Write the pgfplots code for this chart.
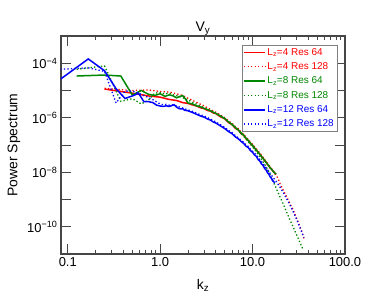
\documentclass[border=0pt]{standalone}
\usepackage{pgfplots}
\pgfplotsset{compat=1.18}
\usepackage{fontspec}
\setmainfont{Liberation Sans}
\definecolor{dgreen}{RGB}{0,135,0}
\definecolor{axgray}{RGB}{70,70,70}
\pgfplotstableread{
k P
0.25 1.13e-5
0.5 8.0e-6
0.75 6.3e-6
1.0 5.7e-6
1.25 4.7e-6
1.5 4.3e-6
1.75 3.6e-6
2.0 3.35e-6
2.25 2.95e-6
2.5 2.65e-6
2.75 2.3e-6
3.0 2.15e-6
3.25 1.85e-6
3.5 1.75e-6
3.75 1.5e-6
4.0 1.42e-6
4.5 1.08e-6
5.0 9.2e-7
5.5 6.6e-7
6.0 5.6e-7
6.5 4.1e-7
7.0 3.6e-7
7.5 2.6e-7
8.0 2.3e-7
8.5 1.68e-7
9.0 1.45e-7
9.5 1.1e-7
10.0 9.8e-8
10.5 7.6e-8
11.0 6.7e-8
11.5 5.3e-8
12.0 4.6e-8
12.5 3.7e-8
13.0 3.3e-8
13.5 2.6e-8
14.0 2.4e-8
14.5 1.9e-8
15.0 1.75e-8
15.5 1.4e-8
16.0 1.35e-8
16.5 1.1e-8
17.0 1.05e-8
17.5 8.8e-9
18.0 8.5e-9
}\redA
\pgfplotstableread{
k P
0.25 1.2e-5
0.5 1.0e-5
0.75 1.05e-5
1.0 9.2e-6
1.25 8.8e-6
1.5 7.6e-6
1.75 6.6e-6
2.0 5.2e-6
2.25 4.3e-6
2.5 3.6e-6
2.75 3.1e-6
3.0 2.7e-6
3.25 2.3e-6
3.5 2.05e-6
3.75 1.75e-6
4.0 1.6e-6
4.5 1.25e-6
5.0 1.0e-6
5.5 7.6e-7
6.0 6.2e-7
6.5 4.7e-7
7.0 4.0e-7
7.5 3.0e-7
8.0 2.5e-7
8.5 1.9e-7
9.0 1.6e-7
9.5 1.25e-7
10 1.05e-7
11 7.2e-8
12 5.0e-8
13 3.5e-8
14 2.5e-8
15 1.8e-8
16 1.35e-8
17 1.0e-8
18 8.0e-9
19 5.5e-9
20 3.5e-9
21 2.6e-9
22 1.9e-9
23 1.4e-9
24 1.05e-9
25 7.9e-10
26 6.0e-10
27 4.7e-10
28 3.6e-10
29 2.7e-10
30 2.0e-10
31 1.55e-10
32 1.17e-10
33 9.0e-11
34 6.9e-11
35 5.0e-11
36 3.6e-11
}\redB
\pgfplotstableread{
k P
0.125 3.4e-5
0.25 3.7e-5
0.375 3.4e-5
0.5 6.8e-6
0.625 1.0e-5
0.75 7.2e-6
0.875 6.6e-6
1.0 7.6e-6
1.125 6.1e-6
1.25 6.9e-6
1.375 6.4e-6
1.5 5.4e-6
1.625 6.0e-6
1.75 6.5e-6
1.875 4.9e-6
2.0 3.5e-6
2.25 3.2e-6
2.5 2.7e-6
2.75 2.5e-6
3.0 2.2e-6
3.25 2.0e-6
3.5 1.8e-6
3.75 1.6e-6
4.0 1.45e-6
4.5 1.15e-6
5.0 9.4e-7
5.5 7.0e-7
6.0 5.7e-7
6.5 4.4e-7
7.0 3.6e-7
7.5 2.8e-7
8.0 2.3e-7
8.5 1.78e-7
9.0 1.45e-7
9.5 1.15e-7
10.0 9.6e-8
10.5 7.8e-8
11.0 6.5e-8
11.5 5.4e-8
12.0 4.5e-8
12.5 3.8e-8
13.0 3.2e-8
13.5 2.7e-8
14.0 2.3e-8
14.5 2.0e-8
15.0 1.7e-8
15.5 1.45e-8
16.0 1.3e-8
16.5 1.15e-8
17.0 1.0e-8
17.5 9.2e-9
18.0 8.6e-9
}\greenA
\pgfplotstableread{
k P
0.125 6.0e-5
0.25 8.0e-5
0.375 4.0e-6
0.5 5.0e-6
0.625 3.2e-6
0.75 4.5e-6
0.875 8.0e-6
1.0 8.5e-6
1.125 7.5e-6
1.25 8.0e-6
1.375 7.0e-6
1.5 6.5e-6
1.75 5.5e-6
2.0 4.5e-6
2.25 3.7e-6
2.5 3.1e-6
3.0 2.3e-6
3.5 1.8e-6
4.0 1.45e-6
4.5 1.15e-6
5.0 9.0e-7
6.0 5.5e-7
7.0 3.4e-7
8.0 2.1e-7
9.0 1.3e-7
10 8.5e-8
11 5.6e-8
12 3.7e-8
13 2.4e-8
14 1.6e-8
15 1.05e-8
16 6.0e-9
17 4.0e-9
18 2.6e-9
19 1.7e-9
20 1.15e-9
21 8.0e-10
22 5.6e-10
23 3.9e-10
24 2.8e-10
25 2.0e-10
26 1.5e-10
27 1.12e-10
28 8.5e-11
29 6.5e-11
30 5.0e-11
31 3.9e-11
32 3.0e-11
33 2.4e-11
34 1.9e-11
35 1.5e-11
}\greenB
\pgfplotstableread{
k P
0.0833 2.6e-5
0.1667 1.44e-4
0.25 5.3e-5
0.3333 1.16e-5
0.4167 5.1e-6
0.5 6.3e-6
0.5833 7.9e-6
0.6667 3.9e-6
0.75 3.9e-6
0.8333 3.6e-6
0.9167 2.9e-6
1.0 2.7e-6
1.0833 2.6e-6
1.1667 2.75e-6
1.25 2.6e-6
1.3333 2.8e-6
1.4167 3.0e-6
1.5 2.5e-6
1.5833 2.2e-6
1.6667 2.1e-6
1.75 2.15e-6
1.8333 1.9e-6
2.0 1.8e-6
2.25 1.55e-6
2.5 1.32e-6
2.75 1.15e-6
3.0 1.05e-6
3.25 9.0e-7
3.5 8.2e-7
3.75 7.0e-7
4.0 6.4e-7
4.5 5.0e-7
5.0 4.0e-7
5.5 3.1e-7
6.0 2.6e-7
6.5 2.0e-7
7.0 1.7e-7
7.5 1.35e-7
8.0 1.15e-7
8.5 9.0e-8
9.0 8.0e-8
9.5 6.2e-8
10.0 5.4e-8
10.5 4.3e-8
11.0 3.8e-8
11.5 2.9e-8
12.0 2.55e-8
12.5 2.0e-8
13.0 1.8e-8
13.5 1.38e-8
14.0 1.22e-8
14.5 9.6e-9
15.0 8.5e-9
15.5 6.8e-9
16.0 6.0e-9
16.5 4.9e-9
17.0 4.5e-9
17.3 4.0e-9
}\blueA
\pgfplotstableread{
k P
0.0833 6.0e-5
0.1667 6.8e-5
0.25 5.0e-5
0.3333 3.5e-6
0.4167 9.5e-6
0.5 9.5e-6
0.5833 8.0e-6
0.6667 6.5e-6
0.75 5.5e-6
0.8333 4.6e-6
0.9167 3.8e-6
1.0 3.2e-6
1.0833 3.0e-6
1.1667 3.1e-6
1.25 2.9e-6
1.3333 3.0e-6
1.4167 2.9e-6
1.5 2.7e-6
1.6667 2.4e-6
1.8333 2.15e-6
2.0 1.95e-6
2.25 1.7e-6
2.5 1.45e-6
2.75 1.27e-6
3.0 1.15e-6
3.5 9.0e-7
4.0 7.0e-7
4.5 5.5e-7
5.0 4.4e-7
5.5 3.4e-7
6.0 2.85e-7
6.5 2.2e-7
7.0 1.85e-7
7.5 1.5e-7
8.0 1.27e-7
8.5 1.0e-7
9.0 8.8e-8
9.5 6.9e-8
10 6.0e-8
11 4.3e-8
12 2.9e-8
13 2.05e-8
14 1.45e-8
15 1.05e-8
16 7.8e-9
17 5.9e-9
18 4.6e-9
19 3.5e-9
20 2.7e-9
21 2.05e-9
22 1.55e-9
23 1.17e-9
24 8.9e-10
25 6.9e-10
26 5.3e-10
27 4.1e-10
28 3.1e-10
29 2.4e-10
30 1.85e-10
31 1.4e-10
32 1.08e-10
33 8.3e-11
34 6.4e-11
35 5.0e-11
36 4.0e-11
}\blueB
\begin{document}
\begin{tikzpicture}
\path[use as bounding box] (-61bp,-45bp) rectangle (313bp,254bp);
\begin{axis}[
  at={(0,0)}, anchor=south west,
  scale only axis, width=284bp, height=218bp,
  xmode=log, ymode=log,
  xmin=0.0845, xmax=100, ymin=1e-11, ymax=1e-3,
  xtick={0.1,1,10,100}, xticklabels={0.1,1.0,10.0,100.0},
  ytick={1e-10,1e-8,1e-6,1e-4},
  yticklabels={10\textsuperscript{−10},10\textsuperscript{−8},10\textsuperscript{−6},10\textsuperscript{−4}},
  extra y ticks={1e-9,1e-7,1e-5}, extra y tick labels={},
  yminorticks=false,
  tick align=inside,
  major tick length=10bp, minor tick length=4bp,
  every tick/.style={axgray, line width=0.9pt},
  axis line style={axgray, line width=1.2pt},
  tick label style={font=\fontsize{13}{15}\selectfont},
  label style={font=\fontsize{14}{16}\selectfont},
  title={V\textsubscript{y}},
  title style={font=\fontsize{14}{16}\selectfont, yshift=-9bp},
  xlabel={k\textsubscript{z}}, ylabel={Power Spectrum},
  xlabel style={yshift=-6bp},
  legend style={at={(0.972,0.959)}, anchor=north east, draw=gray,
    font=\fontsize{10}{12}\selectfont, inner sep=1.5pt, row sep=2.7pt,
    nodes={inner sep=1.6pt}},
  legend cell align=left,
  legend image code/.code={\draw[#1] (0cm,0cm) -- (0.74cm,0cm);},
  clip=true,
]
\addplot[red, line width=1.5pt] table[x=k,y=P] {\redA};
\addlegendentry{\textcolor{red}{L\textsubscript{z}=4 Res 64}}
\addplot[red, line width=1.3pt, dash pattern=on 1.3pt off 2.2pt] table[x=k,y=P] {\redB};
\addlegendentry{\textcolor{red}{L\textsubscript{z}=4 Res 128}}
\addplot[dgreen, line width=1.5pt] table[x=k,y=P] {\greenA};
\addlegendentry{\textcolor{dgreen}{L\textsubscript{z}=8 Res 64}}
\addplot[dgreen, line width=1.3pt, dash pattern=on 1.3pt off 2.2pt] table[x=k,y=P] {\greenB};
\addlegendentry{\textcolor{dgreen}{L\textsubscript{z}=8 Res 128}}
\addplot[blue, line width=1.5pt] table[x=k,y=P] {\blueA};
\addlegendentry{\textcolor{blue}{L\textsubscript{z}=12 Res 64}}
\addplot[blue, line width=1.3pt, dash pattern=on 1.3pt off 2.2pt] table[x=k,y=P] {\blueB};
\addlegendentry{\textcolor{blue}{L\textsubscript{z}=12 Res 128}}
\end{axis}
\end{tikzpicture}
\end{document}
